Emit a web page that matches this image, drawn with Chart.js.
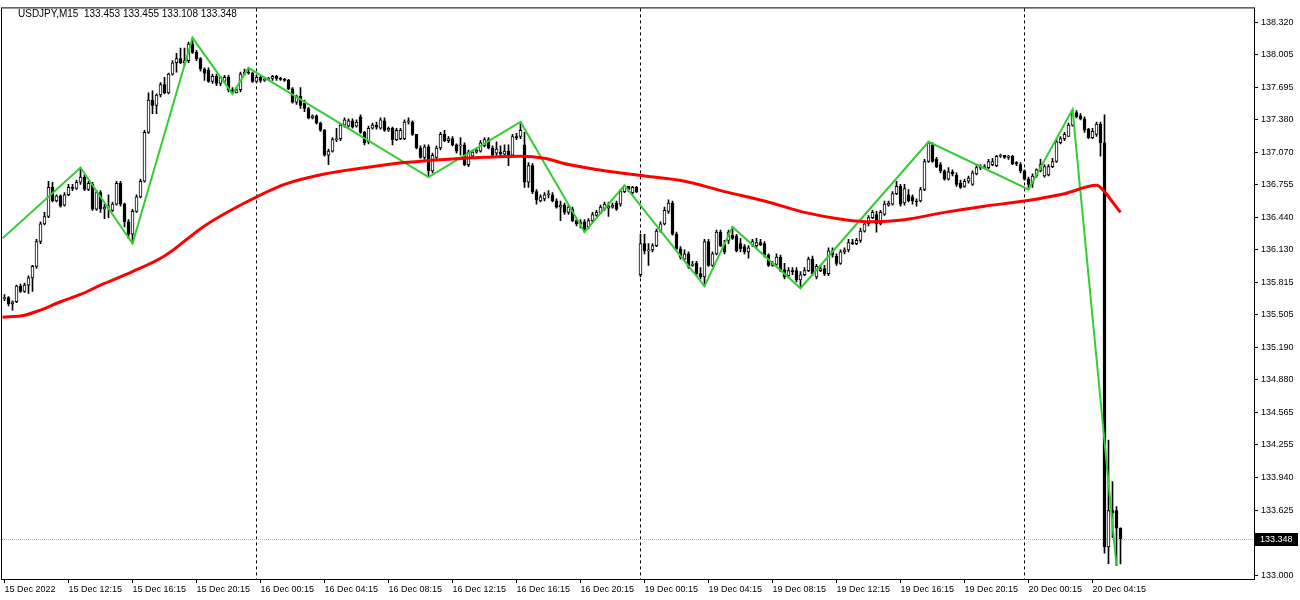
<!DOCTYPE html>
<html>
<head>
<meta charset="utf-8">
<title>USDJPY,M15</title>
<script src="https://cdn.jsdelivr.net/npm/chart.js@4.4.1/dist/chart.umd.min.js"></script>
<style>
  html, body { margin: 0; padding: 0; background: #ffffff; }
  #wrap { width: 1300px; height: 600px; }
</style>
</head>
<body>
<div id="wrap"><canvas id="chart" width="1300" height="600"></canvas></div>
<script>
// USDJPY M15, one entry per bar (bar 0 = 15 Dec 08:15)
var symbolTitle = 'USDJPY,M15';

var opens = [
  135.66,135.67,135.61,135.63,135.78,135.73,135.79,135.86,135.97,136.21,
  136.38,136.45,136.73,136.60,136.65,136.56,136.66,136.73,136.72,136.78,
  136.83,136.71,136.76,136.52,136.68,136.52,136.54,136.51,136.57,136.77,
  136.57,136.40,136.28,136.50,136.64,136.79,137.26,137.57,137.52,137.62,
  137.72,137.64,137.82,137.93,137.97,137.93,137.95,138.11,138.03,137.97,
  137.87,137.86,137.75,137.80,137.73,137.75,137.79,137.67,137.64,137.67,
  137.82,137.84,137.83,137.75,137.79,137.76,137.77,137.78,137.80,137.78,
  137.77,137.76,137.68,137.55,137.61,137.54,137.49,137.40,137.42,137.35,
  137.28,137.04,137.08,137.19,137.20,137.33,137.32,137.37,137.32,137.41,
  137.26,137.17,137.30,137.33,137.30,137.37,137.28,137.30,137.19,137.20,
  137.20,137.36,137.36,137.24,137.11,137.02,137.12,136.89,137.02,137.11,
  137.24,137.18,137.20,137.14,137.13,137.14,136.95,137.03,137.07,137.08,
  137.13,137.19,137.11,137.06,137.07,137.05,137.08,137.04,137.22,137.22,
  137.14,136.78,136.94,136.69,136.60,136.62,136.66,136.66,136.60,136.54,
  136.56,136.49,136.52,136.41,136.38,136.40,136.35,136.41,136.46,136.49,
  136.52,136.53,136.54,136.58,136.57,136.69,136.74,136.68,136.73,135.89,
  136.19,136.12,136.13,136.17,136.31,136.38,136.50,136.58,136.28,136.14,
  136.04,136.09,135.98,136.00,135.90,135.87,136.21,135.98,136.09,136.30,
  136.18,136.22,136.27,136.26,136.19,136.16,136.11,136.18,136.17,136.20,
  136.19,136.08,135.98,135.99,136.06,135.94,135.88,135.93,135.93,135.84,
  135.89,135.93,136.04,135.87,135.93,135.95,135.90,136.12,136.07,136.00,
  136.11,136.13,136.20,136.19,136.22,136.31,136.38,136.44,136.47,136.38,
  136.47,136.56,136.57,136.67,136.74,136.58,136.66,136.64,136.60,136.60,
  136.71,136.98,137.14,137.00,136.95,136.89,136.81,136.88,136.85,136.77,
  136.74,136.79,136.76,136.86,136.93,136.92,136.92,136.95,136.94,137.03,
  137.04,137.02,137.03,136.96,136.95,136.89,136.81,136.77,136.84,136.89,
  136.84,136.85,136.93,136.98,137.16,137.20,137.22,137.33,137.45,137.42,
  137.39,137.29,137.21,137.24,137.34,137.16,133.27,133.62,133.62,133.453
];
var highs = [
  135.70,135.68,135.64,135.79,135.80,135.81,135.88,135.98,136.23,136.40,
  136.49,136.79,136.78,136.66,136.66,136.68,136.76,136.76,136.80,136.92,
  136.85,136.79,136.78,136.70,136.70,136.57,136.66,136.59,136.79,136.79,
  136.58,136.42,136.52,136.66,136.81,137.28,137.64,137.66,137.63,137.74,
  137.79,137.83,137.95,138.02,138.07,138.07,138.13,138.17,138.05,137.98,
  137.88,137.88,137.82,137.82,137.80,137.81,137.81,137.69,137.69,137.84,
  137.87,137.88,137.84,137.81,137.80,137.79,137.79,137.81,137.81,137.79,
  137.78,137.77,137.69,137.62,137.69,137.57,137.50,137.43,137.43,137.36,
  137.29,137.10,137.21,137.30,137.35,137.40,137.39,137.39,137.38,137.43,
  137.27,137.32,137.35,137.36,137.40,137.40,137.31,137.31,137.30,137.30,
  137.38,137.40,137.37,137.24,137.13,137.14,137.14,137.06,137.13,137.26,
  137.28,137.22,137.22,137.15,137.21,137.16,137.09,137.09,137.10,137.18,
  137.21,137.21,137.13,137.17,137.13,137.14,137.14,137.24,137.25,137.36,
  137.26,136.97,136.96,136.71,136.66,136.68,136.70,136.68,136.62,136.60,
  136.58,136.56,136.54,136.43,136.42,136.42,136.43,136.49,136.51,136.56,
  136.59,136.59,136.58,136.60,136.71,136.75,136.74,136.74,136.74,136.28,
  136.28,136.19,136.19,136.33,136.40,136.54,136.61,136.60,136.30,136.16,
  136.13,136.11,136.02,136.02,135.96,136.23,136.23,136.11,136.32,136.32,
  136.22,136.32,136.35,136.28,136.24,136.18,136.17,136.23,136.24,136.23,
  136.21,136.09,136.02,136.09,136.08,136.00,135.96,135.96,135.96,135.92,
  135.96,136.06,136.07,135.99,135.98,135.98,136.15,136.15,136.09,136.13,
  136.15,136.23,136.23,136.24,136.34,136.40,136.46,136.51,136.50,136.51,
  136.60,136.60,136.69,136.79,136.76,136.76,136.71,136.66,136.62,136.73,
  137.00,137.17,137.16,137.02,136.97,136.90,136.92,136.90,136.87,136.80,
  136.81,136.84,136.89,136.94,136.95,136.95,137.00,137.01,137.04,137.05,
  137.04,137.04,137.04,136.98,136.97,136.90,136.83,136.86,136.91,137.00,
  136.95,136.95,137.01,137.19,137.22,137.26,137.35,137.48,137.47,137.44,
  137.41,137.30,137.30,137.36,137.36,137.43,134.30,133.90,133.66,133.455
];
var lows = [
  135.64,135.59,135.55,135.62,135.72,135.72,135.71,135.73,135.95,136.19,
  136.37,136.44,136.59,136.59,136.54,136.55,136.65,136.70,136.71,136.76,
  136.70,136.70,136.51,136.51,136.49,136.43,136.44,136.50,136.56,136.55,
  136.35,136.24,136.19,136.49,136.63,136.78,137.25,137.44,137.44,137.60,
  137.63,137.63,137.81,137.84,137.92,137.90,137.93,138.02,137.95,137.85,
  137.76,137.74,137.73,137.71,137.71,137.74,137.65,137.63,137.64,137.65,
  137.81,137.82,137.74,137.74,137.74,137.75,137.76,137.76,137.76,137.76,
  137.75,137.67,137.54,137.53,137.49,137.46,137.39,137.39,137.34,137.27,
  137.03,136.95,137.07,137.17,137.18,137.31,137.31,137.30,137.31,137.25,
  137.14,137.15,137.29,137.29,137.29,137.27,137.27,137.14,137.18,137.19,
  137.19,137.34,137.23,137.10,137.01,137.00,136.83,136.87,137.01,137.09,
  137.17,137.16,137.13,137.06,137.04,136.94,136.93,137.02,137.06,137.07,
  137.12,137.10,137.03,137.04,137.03,137.04,136.94,137.03,137.19,137.20,
  136.73,136.73,136.67,136.57,136.59,136.60,136.63,136.59,136.53,136.41,
  136.47,136.47,136.40,136.36,136.34,136.30,136.33,136.40,136.45,136.48,
  136.51,136.45,136.53,136.51,136.55,136.68,136.69,136.66,136.68,135.87,
  136.09,135.98,136.11,136.16,136.30,136.37,136.48,136.27,136.13,136.04,
  136.03,135.95,135.97,135.88,135.85,135.78,135.97,135.97,136.08,136.16,
  136.09,136.19,136.23,136.11,136.11,136.09,136.05,136.16,136.15,136.17,
  136.06,135.97,135.97,135.98,135.92,135.85,135.86,135.89,135.82,135.76,
  135.88,135.92,135.88,135.85,135.92,135.88,135.88,136.06,135.98,135.99,
  136.09,136.11,136.18,136.18,136.20,136.30,136.36,136.43,136.30,136.37,
  136.46,136.55,136.56,136.66,136.55,136.56,136.59,136.57,136.55,136.59,
  136.70,136.97,136.97,136.92,136.87,136.80,136.80,136.84,136.74,136.72,
  136.73,136.77,136.75,136.85,136.90,136.91,136.91,136.94,136.93,137.02,
  137.01,137.00,136.95,136.94,136.87,136.80,136.71,136.73,136.83,136.88,
  136.83,136.84,136.92,136.97,137.15,137.18,137.22,137.32,137.40,137.38,
  137.26,137.20,137.20,137.22,137.03,133.21,133.11,133.36,133.09,133.108
];
var closes = [
  135.67,135.61,135.63,135.78,135.73,135.79,135.86,135.97,136.21,136.38,
  136.45,136.73,136.60,136.65,136.55,136.66,136.73,136.72,136.78,136.83,
  136.71,136.77,136.52,136.68,136.52,136.54,136.55,136.57,136.77,136.57,
  136.40,136.28,136.50,136.64,136.79,137.26,137.57,137.52,137.62,137.72,
  137.64,137.82,137.93,137.97,137.93,137.95,138.11,138.03,137.97,137.87,
  137.83,137.75,137.80,137.73,137.79,137.79,137.67,137.64,137.67,137.82,
  137.84,137.83,137.75,137.79,137.76,137.77,137.78,137.80,137.78,137.77,
  137.76,137.68,137.55,137.61,137.52,137.49,137.40,137.42,137.35,137.28,
  137.04,137.08,137.19,137.20,137.33,137.38,137.37,137.31,137.36,137.26,
  137.16,137.30,137.33,137.31,137.38,137.28,137.30,137.19,137.28,137.28,
  137.36,137.37,137.24,137.11,137.02,137.12,136.89,137.04,137.11,137.24,
  137.18,137.20,137.14,137.08,137.14,136.95,137.07,137.07,137.09,137.16,
  137.19,137.11,137.04,137.10,137.05,137.08,137.04,137.22,137.21,137.28,
  136.78,136.94,136.69,136.61,136.64,136.66,136.67,136.60,136.54,136.56,
  136.49,136.54,136.41,136.38,136.40,136.33,136.41,136.47,136.49,136.54,
  136.57,136.55,136.56,136.52,136.69,136.74,136.71,136.73,136.69,136.19,
  136.12,136.13,136.17,136.31,136.38,136.51,136.58,136.28,136.14,136.06,
  136.09,135.97,135.99,135.90,135.87,136.21,135.98,136.09,136.30,136.17,
  136.11,136.30,136.24,136.12,136.14,136.11,136.15,136.21,136.20,136.18,
  136.08,135.98,136.00,136.06,135.93,135.87,135.93,135.92,135.84,135.89,
  135.93,136.04,135.90,135.97,135.95,135.90,136.12,136.08,136.00,136.11,
  136.13,136.20,136.19,136.22,136.31,136.38,136.44,136.49,136.38,136.49,
  136.57,136.58,136.67,136.74,136.57,136.72,136.60,136.60,136.59,136.71,
  136.98,137.16,136.98,136.93,136.89,136.81,136.88,136.86,136.76,136.73,
  136.79,136.82,136.87,136.92,136.92,136.93,136.98,136.98,137.03,137.04,
  137.02,137.03,136.96,136.96,136.89,136.81,136.76,136.84,136.90,136.95,
  136.93,136.93,136.98,137.17,137.20,137.24,137.33,137.44,137.41,137.39,
  137.28,137.21,137.27,137.34,137.16,133.27,133.62,133.60,133.45,133.348
];

// moving average (red), read at sampled bars
var maBars   = [-0.5, 5, 9, 14, 19, 24, 32, 40, 50, 60, 70, 80, 90, 100, 110, 120, 129, 135, 141, 150,
                160, 170, 180, 190, 200, 210, 217, 225, 235, 245, 255, 265, 273, 275, 277, 279];
var maValues = [135.48, 135.50, 135.55, 135.63, 135.70, 135.79, 135.92, 136.07, 136.36, 136.58,
                136.76, 136.86, 136.92, 136.97, 137.00, 137.02, 137.03, 137.01, 136.95, 136.89,
                136.84, 136.79, 136.69, 136.60, 136.49, 136.42, 136.40, 136.42, 136.49, 136.55,
                136.60, 136.67, 136.75, 136.69, 136.59, 136.49];

// zigzag pivots (green)
var zigzagBars   = [-0.5, 19, 32, 47, 57, 61, 106, 129, 145, 155, 175, 182, 199, 231, 256, 267, 278];
var zigzagPrices = [136.24, 136.92, 136.19, 138.17, 137.63, 137.88, 136.83, 137.36, 136.30, 136.75,
                    135.78, 136.35, 135.76, 137.17, 136.71, 137.48, 133.09];

// axis labels
var yTicks = [138.320, 138.005, 137.695, 137.380, 137.070, 136.755, 136.440, 136.130, 135.815,
              135.505, 135.190, 134.880, 134.565, 134.255, 133.940, 133.625, 133.310, 133.000];
var xTickBars = [0, 16, 32, 48, 64, 80, 96, 112, 128, 144, 160, 176, 192, 208, 224, 240, 256, 272];
var xTickLabels = ['15 Dec 2022', '15 Dec 12:15', '15 Dec 16:15', '15 Dec 20:15', '16 Dec 00:15',
                   '16 Dec 04:15', '16 Dec 08:15', '16 Dec 12:15', '16 Dec 16:15', '16 Dec 20:15',
                   '19 Dec 00:15', '19 Dec 04:15', '19 Dec 08:15', '19 Dec 12:15', '19 Dec 16:15',
                   '19 Dec 20:15', '20 Dec 00:15', '20 Dec 04:15'];
var separatorBars = [63, 159, 255];   // 16 Dec, 19 Dec, 20 Dec 00:00

var wicks = [];
var bodies = [];
var bodyColors = [];
for (var i = 0; i < closes.length; i++) {
  wicks.push({x: i, y: [lows[i], highs[i]]});
  bodies.push({x: i, y: [Math.min(opens[i], closes[i]), Math.max(opens[i], closes[i])]});
  bodyColors.push(closes[i] > opens[i] ? '#ffffff' : '#000000');
}
var maPoints = maBars.map(function (b, k) { return {x: b, y: maValues[k]}; });
var zigzagPoints = zigzagBars.map(function (b, k) { return {x: b, y: zigzagPrices[k]}; });
var last = closes.length - 1;

Chart.defaults.font.family = 'Liberation Sans, Arial, sans-serif';
Chart.defaults.font.size = 9;
Chart.defaults.color = '#000000';

var mtPlugin = {
  id: 'mtPlugin',
  beforeDatasetsDraw: function (chart) {
    var ctx = chart.ctx, a = chart.chartArea;
    var xs = chart.scales.x, ys = chart.scales.y;
    ctx.save();
    ctx.strokeStyle = '#000000';
    ctx.lineWidth = 1;
    ctx.setLineDash([3, 3]);
    separatorBars.forEach(function (b) {
      var px = Math.floor(xs.getPixelForValue(b)) + 0.5;
      ctx.beginPath();
      ctx.moveTo(px, a.top);
      ctx.lineTo(px, a.bottom);
      ctx.stroke();
    });
    // bid line
    var py = Math.round(ys.getPixelForValue(closes[last])) + 0.5;
    ctx.strokeStyle = '#b4aabb';
    ctx.setLineDash([1, 1]);
    ctx.beginPath();
    ctx.moveTo(a.left, py);
    ctx.lineTo(a.right, py);
    ctx.stroke();
    ctx.restore();
  },
  afterDraw: function (chart) {
    var ctx = chart.ctx, a = chart.chartArea;
    var ys = chart.scales.y;
    ctx.save();
    ctx.strokeStyle = '#000000';
    ctx.lineWidth = 1;
    ctx.setLineDash([]);
    ctx.strokeRect(a.left - 0.5, a.top - 0.5, a.right - a.left + 1, a.bottom - a.top + 1);

    ctx.font = '10px "Liberation Sans", Arial, sans-serif';
    ctx.fillStyle = '#000000';
    ctx.textBaseline = 'middle';
    ctx.textAlign = 'left';
    ctx.fillText(symbolTitle + '  ' + opens[last].toFixed(3) + ' ' + highs[last].toFixed(3) + ' ' +
                 lows[last].toFixed(3) + ' ' + closes[last].toFixed(3), 18, 14);

    ctx.font = '9px "Liberation Sans", Arial, sans-serif';
    var py = Math.round(ys.getPixelForValue(closes[last]));
    ctx.fillStyle = '#000000';
    ctx.fillRect(a.right + 1, py - 6, 43, 13);
    ctx.fillStyle = '#ffffff';
    ctx.fillText(closes[last].toFixed(3), a.right + 6, py + 0.5);
    ctx.restore();
  }
};

new Chart(document.getElementById('chart'), {
  type: 'bar',
  data: {
    datasets: [
      {
        type: 'line', label: 'MA', data: maPoints, order: 0,
        borderColor: '#ff0000', borderWidth: 3, pointRadius: 0,
        cubicInterpolationMode: 'monotone', fill: false
      },
      {
        type: 'line', label: 'ZigZag', data: zigzagPoints, order: 0,
        borderColor: '#32cd32', borderWidth: 2, pointRadius: 0, tension: 0, fill: false
      },
      {
        label: 'body', data: bodies, order: 1, grouped: false,
        backgroundColor: bodyColors, borderColor: '#000000', borderWidth: 1,
        borderSkipped: false, barThickness: 3, minBarLength: 1
      },
      {
        label: 'wick', data: wicks, order: 2, grouped: false,
        backgroundColor: '#000000', borderWidth: 0, barThickness: 1, minBarLength: 1
      }
    ]
  },
  options: {
    responsive: false,
    animation: false,
    devicePixelRatio: 1,
    layout: { padding: { left: 2, top: 2, right: 0, bottom: 0 } },
    plugins: { legend: { display: false }, tooltip: { enabled: false } },
    scales: {
      x: {
        type: 'linear', min: -0.625, max: 312.375, offset: false,
        afterBuildTicks: function (s) { s.ticks = xTickBars.map(function (v) { return {value: v}; }); },
        afterFit: function (s) { s.height = 21; },
        ticks: {
          align: 'start', maxRotation: 0, autoSkip: false, padding: 1,
          callback: function (v, idx) { return xTickLabels[idx]; }
        },
        grid: { offset: false, drawOnChartArea: false, drawTicks: true, tickLength: 4, color: '#000000' },
        border: { display: false }
      },
      y: {
        type: 'linear', position: 'right', min: 132.962, max: 138.453,
        afterBuildTicks: function (s) { s.ticks = yTicks.map(function (v) { return {value: v}; }); },
        afterFit: function (s) { s.width = 46; },
        ticks: { padding: 3, callback: function (v) { return v.toFixed(3); } },
        grid: { drawOnChartArea: false, drawTicks: true, tickLength: 4, color: '#000000' },
        border: { display: false }
      }
    }
  },
  plugins: [mtPlugin]
});
</script>
</body>
</html>
